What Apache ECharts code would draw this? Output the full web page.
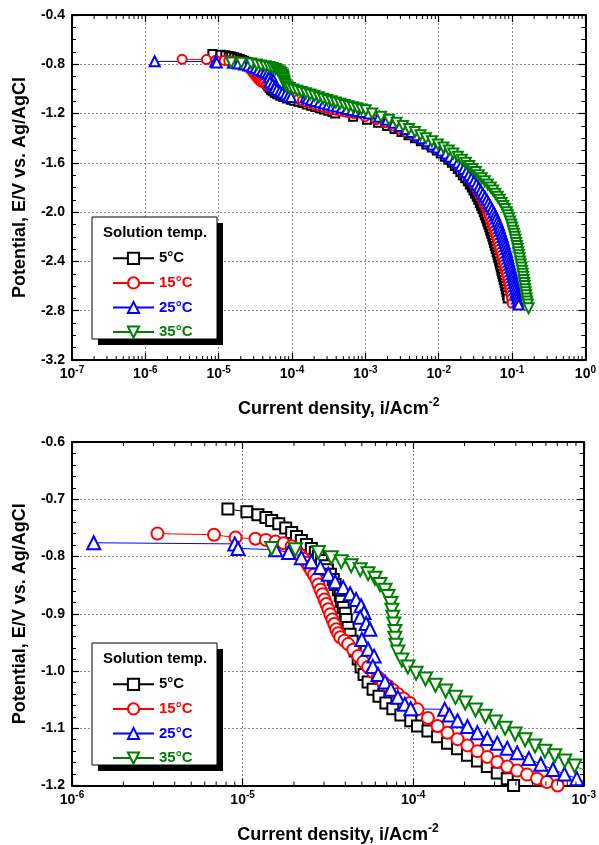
<!DOCTYPE html>
<html><head><meta charset="utf-8">
<script src="https://cdn.jsdelivr.net/npm/echarts@6/dist/echarts.min.js"></script>
<style>html,body{margin:0;padding:0;background:#fff}#c{width:599px;height:845px}</style>
</head><body><div id="c"></div><script>
// ---- data: current density (A/cm2) vs potential (V vs Ag/AgCl) ----
const seriesNames = ['5°C', '15°C', '25°C', '35°C'];
const seriesColors = ['#000000', '#ff0000', '#0000ff', '#008000'];

// near-OCP / activation part, [current, potential]
const upper5C = [[8.2e-6,-0.717],[1.06e-5,-0.722],[1.23e-5,-0.727],[1.37e-5,-0.732],[1.48e-5,-0.737],[1.63e-5,-0.743],[1.79e-5,-0.750],[1.94e-5,-0.758],[2.07e-5,-0.765],[2.21e-5,-0.772],[2.37e-5,-0.779],[2.53e-5,-0.786],[2.67e-5,-0.793],[2.78e-5,-0.800],[2.90e-5,-0.807],[3.06e-5,-0.816],[3.14e-5,-0.823],[3.27e-5,-0.831],[3.40e-5,-0.840],[3.49e-5,-0.849],[3.64e-5,-0.858],[3.74e-5,-0.868],[3.79e-5,-0.878],[3.89e-5,-0.889],[4.00e-5,-0.899],[4.05e-5,-0.910],[4.16e-5,-0.924],[4.27e-5,-0.936],[4.39e-5,-0.948],[4.57e-5,-0.965],[4.76e-5,-0.979],[4.95e-5,-0.993],[5.15e-5,-1.006],[5.44e-5,-1.019],[5.82e-5,-1.032],[6.30e-5,-1.044],[6.92e-5,-1.056],[7.60e-5,-1.066],[8.47e-5,-1.077],[9.68e-5,-1.087],[1.06e-4,-1.096],[1.22e-4,-1.105],[1.39e-4,-1.115],[1.59e-4,-1.126],[1.82e-4,-1.136],[2.08e-4,-1.147],[2.38e-4,-1.157],[2.72e-4,-1.167],[3.11e-4,-1.178],[3.56e-4,-1.188]];
const upper15C = [[3.17e-6,-0.760],[6.8e-6,-0.762],[9.1e-6,-0.767],[1.19e-5,-0.769],[1.37e-5,-0.771],[1.56e-5,-0.774],[1.74e-5,-0.777],[1.94e-5,-0.782],[2.04e-5,-0.789],[2.11e-5,-0.793],[2.19e-5,-0.798],[2.28e-5,-0.804],[2.37e-5,-0.811],[2.45e-5,-0.818],[2.53e-5,-0.825],[2.62e-5,-0.832],[2.71e-5,-0.840],[2.78e-5,-0.849],[2.86e-5,-0.858],[2.94e-5,-0.866],[3.02e-5,-0.875],[3.10e-5,-0.883],[3.18e-5,-0.892],[3.27e-5,-0.901],[3.36e-5,-0.910],[3.45e-5,-0.918],[3.54e-5,-0.927],[3.64e-5,-0.934],[3.74e-5,-0.941],[3.95e-5,-0.947],[4.16e-5,-0.953],[4.45e-5,-0.963],[4.76e-5,-0.974],[5.10e-5,-0.984],[5.44e-5,-0.993],[5.82e-5,-1.002],[6.22e-5,-1.011],[6.65e-5,-1.019],[7.12e-5,-1.026],[7.60e-5,-1.033],[8.13e-5,-1.040],[8.80e-5,-1.048],[9.55e-5,-1.056],[1.06e-4,-1.067],[1.22e-4,-1.082],[1.39e-4,-1.096],[1.59e-4,-1.108],[1.82e-4,-1.119],[2.08e-4,-1.130],[2.38e-4,-1.140],[2.72e-4,-1.150],[3.11e-4,-1.159],[3.56e-4,-1.167],[4.07e-4,-1.174],[4.65e-4,-1.181],[5.32e-4,-1.188],[6.08e-4,-1.194]];
const upper25C = [[1.34e-6,-0.776],[9.0e-6,-0.778],[9.4e-6,-0.786],[1.56e-5,-0.788],[1.86e-5,-0.793],[2.21e-5,-0.802],[2.53e-5,-0.809],[2.86e-5,-0.819],[3.18e-5,-0.831],[3.49e-5,-0.844],[3.89e-5,-0.854],[4.27e-5,-0.865],[4.63e-5,-0.875],[4.95e-5,-0.886],[5.15e-5,-0.898],[4.89e-5,-0.906],[5.30e-5,-0.917],[5.58e-5,-0.927],[5.00e-5,-0.945],[5.44e-5,-0.962],[5.90e-5,-0.974],[5.80e-5,-0.992],[6.22e-5,-1.006],[6.84e-5,-1.019],[7.40e-5,-1.032],[8.13e-5,-1.046],[8.93e-5,-1.058],[9.68e-5,-1.066],[1.53e-4,-1.067],[1.63e-4,-1.077],[1.82e-4,-1.087],[2.08e-4,-1.097],[2.38e-4,-1.108],[2.72e-4,-1.118],[3.11e-4,-1.126],[3.56e-4,-1.135],[4.07e-4,-1.143],[4.77e-4,-1.153],[5.60e-4,-1.163],[6.60e-4,-1.172],[7.70e-4,-1.180],[9.10e-4,-1.188]];
const upper35C = [[1.48e-5,-0.786],[2.04e-5,-0.788],[2.78e-5,-0.793],[3.31e-5,-0.802],[3.79e-5,-0.809],[4.33e-5,-0.816],[4.89e-5,-0.823],[5.44e-5,-0.830],[5.97e-5,-0.838],[6.39e-5,-0.849],[6.84e-5,-0.859],[7.12e-5,-0.870],[7.41e-5,-0.882],[7.50e-5,-0.894],[7.60e-5,-0.906],[7.70e-5,-0.918],[7.81e-5,-0.931],[7.81e-5,-0.943],[7.92e-5,-0.955],[8.13e-5,-0.967],[8.59e-5,-0.981],[9.31e-5,-0.993],[1.04e-4,-1.004],[1.18e-4,-1.014],[1.35e-4,-1.025],[1.55e-4,-1.035],[1.77e-4,-1.046],[2.02e-4,-1.056],[2.32e-4,-1.068],[2.65e-4,-1.079],[3.03e-4,-1.089],[3.46e-4,-1.100],[3.96e-4,-1.110],[4.53e-4,-1.120],[5.18e-4,-1.131],[5.92e-4,-1.140],[6.76e-4,-1.148],[7.74e-4,-1.157],[8.85e-4,-1.166],[1.01e-3,-1.173]];

// cathodic branch read at fixed potentials (V)
const lowerPotentials = [-1.200,-1.225,-1.250,-1.275,-1.300,-1.325,-1.350,-1.375,-1.400,-1.425,-1.450,-1.475,-1.500,-1.525,-1.550,-1.575,-1.600,-1.625,-1.650,-1.675,-1.700,-1.725,-1.750,-1.775,-1.800,-1.825,-1.850,-1.875,-1.900,-1.925,-1.950,-1.975,-2.000,-2.025,-2.050,-2.075,-2.100,-2.125,-2.150,-2.175,-2.200,-2.225,-2.250,-2.275,-2.300,-2.325,-2.350,-2.375,-2.400,-2.425,-2.450,-2.475,-2.500,-2.525,-2.550,-2.575,-2.600,-2.625,-2.650,-2.675,-2.700];
const lower5C = [3.88e-4,6.81e-4,1.055e-3,1.489e-3,1.973e-3,2.495e-3,3.107e-3,3.869e-3,4.741e-3,5.72e-3,6.794e-3,8.07e-3,9.44e-3,1.069e-2,1.212e-2,1.352e-2,1.510e-2,1.658e-2,1.821e-2,1.969e-2,2.129e-2,2.303e-2,2.490e-2,2.651e-2,2.822e-2,2.976e-2,3.139e-2,3.300e-2,3.458e-2,3.624e-2,3.787e-2,3.945e-2,4.109e-2,4.253e-2,4.401e-2,4.570e-2,4.730e-2,4.881e-2,5.036e-2,5.196e-2,5.360e-2,5.514e-2,5.654e-2,5.815e-2,5.981e-2,6.153e-2,6.328e-2,6.489e-2,6.674e-2,6.822e-2,6.995e-2,7.150e-2,7.331e-2,7.493e-2,7.684e-2,7.877e-2,8.051e-2,8.205e-2,8.386e-2,8.546e-2,8.707e-2];
const lower15C = [7.03e-4,9.92e-4,1.398e-3,1.854e-3,2.381e-3,2.918e-3,3.576e-3,4.453e-3,5.457e-3,6.584e-3,7.82e-3,9.289e-3,1.070e-2,1.212e-2,1.374e-2,1.532e-2,1.711e-2,1.879e-2,2.064e-2,2.232e-2,2.413e-2,2.610e-2,2.822e-2,3.005e-2,3.198e-2,3.373e-2,3.558e-2,3.740e-2,3.919e-2,4.107e-2,4.292e-2,4.471e-2,4.657e-2,4.820e-2,4.988e-2,5.180e-2,5.361e-2,5.532e-2,5.708e-2,5.889e-2,6.075e-2,6.250e-2,6.408e-2,6.591e-2,6.779e-2,6.974e-2,7.172e-2,7.355e-2,7.564e-2,7.732e-2,7.928e-2,8.104e-2,8.309e-2,8.493e-2,8.709e-2,8.928e-2,9.125e-2,9.300e-2,9.505e-2,9.686e-2,9.869e-2];
const lower25C = [1.123e-3,1.537e-3,1.973e-3,2.457e-3,2.964e-3,3.578e-3,4.250e-3,5.047e-3,5.902e-3,7.012e-3,8.197e-3,9.588e-3,1.103e-2,1.259e-2,1.427e-2,1.617e-2,1.821e-2,2.000e-2,2.183e-2,2.375e-2,2.569e-2,2.787e-2,3.014e-2,3.259e-2,3.513e-2,3.752e-2,3.995e-2,4.253e-2,4.513e-2,4.775e-2,5.036e-2,5.327e-2,5.619e-2,5.852e-2,6.076e-2,6.328e-2,6.571e-2,6.780e-2,6.995e-2,7.217e-2,7.447e-2,7.659e-2,7.877e-2,8.077e-2,8.307e-2,8.518e-2,8.707e-2,8.929e-2,9.126e-2,9.358e-2,9.565e-2,9.808e-2,1.003e-1,1.021e-1,1.044e-1,1.064e-1,1.084e-1,1.105e-1,1.129e-1,1.151e-1,1.172e-1];
const lower35C = [1.234e-3,1.636e-3,2.101e-3,2.657e-3,3.256e-3,3.929e-3,4.741e-3,5.630e-3,6.689e-3,8.07e-3,9.739e-3,1.156e-2,1.374e-2,1.582e-2,1.821e-2,2.064e-2,2.339e-2,2.610e-2,2.894e-2,3.199e-2,3.513e-2,3.858e-2,4.239e-2,4.657e-2,5.116e-2,5.514e-2,5.926e-2,6.347e-2,6.780e-2,7.194e-2,7.587e-2,8.001e-2,8.438e-2,8.762e-2,9.070e-2,9.386e-2,9.716e-2,9.993e-2,1.028e-1,1.057e-1,1.084e-1,1.111e-1,1.136e-1,1.165e-1,1.190e-1,1.213e-1,1.236e-1,1.263e-1,1.288e-1,1.312e-1,1.341e-1,1.367e-1,1.393e-1,1.415e-1,1.437e-1,1.460e-1,1.483e-1,1.506e-1,1.530e-1,1.554e-1,1.578e-1];
// final points of each scan, [current, potential]
const tail5C = [];
const tail15C = [[1.0e-1,-2.74]];
const tail25C = [[1.198e-1,-2.725],[1.229e-1,-2.75]];
const tail35C = [[1.608e-1,-2.725],[1.638e-1,-2.75],[1.680e-1,-2.78]];

const uppers = [upper5C, upper15C, upper25C, upper35C];
const lowers = [lower5C, lower15C, lower25C, lower35C];
const tails = [tail5C, tail15C, tail25C, tail35C];
const allData = uppers.map((u, k) => u.concat(lowerPotentials.map((e, j) => [lowers[k][j], e]), tails[k]));

const symbols = ['emptyRect', 'emptyCircle', 'emptyTriangle', 'emptyTriangle'];
const symbolRotations = [0, 0, 0, 180];

// axis ranges & labels
const topX = {min: 1e-7, max: 1, split: 7};
const botX = {min: 1e-6, max: 1e-3, split: 3};
const topY = {min: -3.2, max: -0.4, interval: 0.4, minorSplit: 4};
const botY = {min: -1.2, max: -0.6, interval: 0.1, minorSplit: 5};
const minorMultipliers = [2, 3, 4, 5, 6, 7, 8, 9];
const xTitle = 'Current density, i/Acm{s|-2}';
const yTitle = 'Potential, E/V vs. Ag/AgCl';
const legendTitle = 'Solution temp.';

const FONT = '"Liberation Sans", Arial, sans-serif';
function minorTickValues(min, max) {
  const out = [];
  for (let d = min; d < max * 0.999; d *= 10) {
    minorMultipliers.forEach(m => out.push([d * m]));
  }
  return out;
}
function logLabel(v) {
  const e = Math.round(Math.log10(v));
  return '{b|10}{s|' + e + '}';
}
const labelRich = {
  b: {fontFamily: FONT, fontWeight: 'bold', fontSize: 14, color: '#000'},
  s: {fontFamily: FONT, fontWeight: 'bold', fontSize: 10, color: '#000', padding: [0, 0, 9, 0]}
};
const nameRich = {
  s: {fontFamily: FONT, fontWeight: 'bold', fontSize: 12, color: '#000', padding: [0, 0, 13, 0]}
};
const axisLineStyle = {show: true, onZero: false, lineStyle: {color: '#000', width: 2}};
const splitLineStyle = {show: true, lineStyle: {color: '#8a8a8a', width: 1, type: [2, 2]}};

function makeX(gridIndex, r, main) {
  return {
    type: 'log', logBase: 10, gridIndex, min: r.min, max: r.max, splitNumber: r.split,
    position: main ? 'bottom' : 'top',
    axisLine: axisLineStyle,
    axisTick: {show: true, inside: true, length: 7, lineStyle: {color: '#000', width: 1.2}},
    axisLabel: main ? {show: true, margin: 5, formatter: logLabel, rich: labelRich} : {show: false},
    splitLine: main ? splitLineStyle : {show: false},
    name: main ? xTitle : '', nameLocation: 'middle', nameGap: 37,
    nameTextStyle: {fontFamily: FONT, fontWeight: 'bold', fontSize: 18, color: '#000', rich: nameRich, padding: [0, 0, 0, 20]}
  };
}
function makeY(gridIndex, r, main) {
  return {
    type: 'value', gridIndex, min: r.min, max: r.max, interval: r.interval,
    position: main ? 'left' : 'right',
    axisLine: axisLineStyle,
    axisTick: {show: true, inside: true, length: 7, lineStyle: {color: '#000', width: 1.2}},
    minorTick: {show: true, splitNumber: r.minorSplit, length: 4, lineStyle: {color: '#000', width: 1}},
    axisLabel: main ? {show: true, inside: false, margin: 7, formatter: v => v.toFixed(1),
      fontFamily: FONT, fontWeight: 'bold', fontSize: 14, color: '#000'} : {show: false},
    splitLine: main ? splitLineStyle : {show: false},
    name: main ? yTitle : '', nameLocation: 'middle', nameGap: 43,
    nameTextStyle: {fontFamily: FONT, fontWeight: 'bold', fontSize: 18, color: '#000'}
  };
}

const legendTops = [217, 643];
const option = {
  animation: false,
  backgroundColor: '#fff',
  grid: [
    {left: 72, top: 15, width: 515, height: 345},
    {left: 72, top: 442, width: 515, height: 345}
  ],
  xAxis: [makeX(0, topX, true), makeX(0, topX, false), makeX(1, botX, true), makeX(1, botX, false)],
  yAxis: [makeY(0, topY, true), makeY(0, topY, false), makeY(1, botY, true), makeY(1, botY, false)],
  graphic: legendTops.flatMap(t => [
    {type: 'rect', z: 3, silent: true, shape: {x: 98, y: t + 6, width: 125, height: 122}, style: {fill: '#000'}},
    {type: 'rect', z: 3, silent: true, shape: {x: 92, y: t, width: 125, height: 122}, style: {fill: '#fff', stroke: '#000', lineWidth: 1}}
  ]),
  title: legendTops.map(t => ({
    text: legendTitle, left: 103, top: t + 8, padding: 0, z: 20,
    textStyle: {fontFamily: FONT, fontWeight: 'bold', fontSize: 15, color: '#000'}
  })),
  legend: legendTops.map(t => ({
    orient: 'vertical', left: 107, top: t,
    padding: [29, 5, 0, 5], itemGap: 0, itemWidth: 41, itemHeight: 14,
    selectedMode: false, z: 10,
    textStyle: {fontFamily: FONT, fontWeight: 'bold', fontSize: 15, lineHeight: 24.6},
    data: seriesNames.map((n, i) => ({name: n, textStyle: {color: seriesColors[i]}}))
  })),
  series: []
};

[0, 1].forEach(g => {
  allData.forEach((d, i) => {
    option.series.push({
      name: seriesNames[i], type: 'line', xAxisIndex: g * 2, yAxisIndex: g * 2,
      data: d, symbol: symbols[i], symbolRotate: symbolRotations[i],
      symbolSize: g === 0 ? [8, 9, 10, 10][i] : [11, 12, 13, 13][i],
      showAllSymbol: true, clip: true,
      lineStyle: {color: seriesColors[i], width: 1},
      itemStyle: {color: seriesColors[i], borderWidth: 1},
      emphasis: {disabled: true}
    });
  });
  const r = g === 0 ? topY : botY;
  const xr = g === 0 ? topX : botX;
  option.series.push({
    type: 'custom', name: 'minorTicks' + g, xAxisIndex: g * 2, yAxisIndex: g * 2,
    data: minorTickValues(xr.min, xr.max), silent: true, clip: false, z: 5,
    encode: {x: 0},
    renderItem: function (params, api) {
      const x = api.value(0);
      const pb = api.coord([x, r.min]);
      const pt = api.coord([x, r.max]);
      return {type: 'group', children: [
        {type: 'line', shape: {x1: pb[0], y1: pb[1], x2: pb[0], y2: pb[1] - 4}, style: {stroke: '#000', lineWidth: 1}},
        {type: 'line', shape: {x1: pt[0], y1: pt[1], x2: pt[0], y2: pt[1] + 4}, style: {stroke: '#000', lineWidth: 1}}
      ]};
    }
  });
});

const chart = echarts.init(document.getElementById('c'), null, {renderer: 'canvas'});
chart.setOption(option);
</script></body></html>
